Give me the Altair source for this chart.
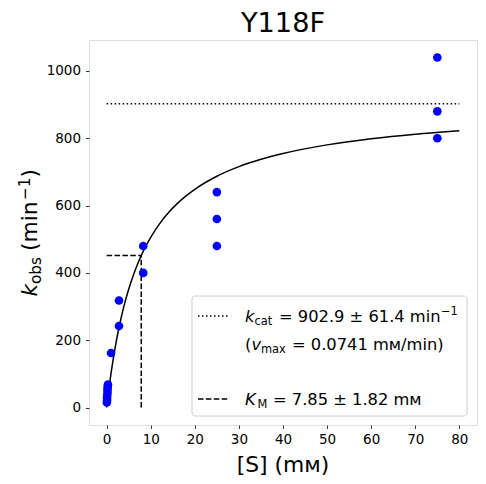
import altair as alt
import pandas as pd

# ---- data ----
S_mM = [0.05, 0.1, 0.1, 0.15, 0.2, 0.2, 0.25, 0.3, 1.0, 2.8, 2.8, 8.3, 8.3, 25, 25, 25, 75, 75, 75]
k_obs = [15, 22, 30, 38, 46, 54, 62, 68, 162, 318, 242, 480, 400, 640, 560, 480, 1040, 880, 800]

fit_S = [0, 0.25, 0.5, 1, 1.5, 2, 3, 4, 5, 6, 7, 8, 9, 10, 12, 14, 16, 18, 20, 25, 30, 35, 40, 50, 60, 70, 80]
fit_k = [0, 27.8, 54.1, 102.0, 144.8, 183.3, 249.6, 304.8, 351.3, 391.1, 425.6, 455.7, 482.3, 505.8,
         545.8, 578.5, 605.7, 628.7, 648.4, 687.1, 715.6, 737.5, 754.8, 780.4, 798.4, 811.9, 822.2]

kcat = 902.9
KM = 7.85
half_kcat = 451.45

x_ticks = [0, 10, 20, 30, 40, 50, 60, 70, 80]
y_ticks = [0, 200, 400, 600, 800, 1000]

points = pd.DataFrame({"S": S_mM, "k": k_obs})
fit = pd.DataFrame({"S": fit_S, "k": fit_k})
kcat_line = pd.DataFrame({"x": [0], "x2": [80], "y": [kcat]})
km_h = pd.DataFrame({"x": [0], "x2": [KM], "y": [half_kcat]})
km_v = pd.DataFrame({"x": [KM], "y": [0], "y2": [half_kcat]})

# plot area: left 89, top 40 (page), 388 x 385
W, H = 388, 385
OX, OY = 89, 40
FONT = "DejaVu Sans"

xs = alt.Scale(domain=[-4, 84], nice=False, zero=False)
ys = alt.Scale(domain=[-52, 1092], nice=False, zero=False)

x_axis = alt.Axis(values=x_ticks, title=None, grid=False, domain=False, tickSize=3.5, tickWidth=0.8,
                  tickColor="black", labelFontSize=13.5, labelColor="black", labelFont=FONT,
                  labelPadding=3.5, format="d")
y_axis = alt.Axis(values=y_ticks, title=None, grid=False, domain=False, tickSize=3.5, tickWidth=0.8,
                  tickColor="black", labelFontSize=13.5, labelColor="black", labelFont=FONT,
                  labelPadding=5, format="d")

base_pts = alt.Chart(points).mark_circle(size=75, color="#0000ff", opacity=1).encode(
    x=alt.X("S:Q", scale=xs, axis=x_axis),
    y=alt.Y("k:Q", scale=ys, axis=y_axis),
)

curve = alt.Chart(fit).mark_line(color="black", strokeWidth=1.5, interpolate="monotone").encode(
    x=alt.X("S:Q", scale=xs), y=alt.Y("k:Q", scale=ys)
)

dot_rule = alt.Chart(kcat_line).mark_rule(color="black", strokeWidth=1.5, strokeDash=[1.5, 2.5]).encode(
    x=alt.X("x:Q", scale=xs), x2="x2:Q", y=alt.Y("y:Q", scale=ys)
)
km_h_rule = alt.Chart(km_h).mark_rule(color="black", strokeWidth=1.5, strokeDash=[5.5, 2.4]).encode(
    x=alt.X("x:Q", scale=xs), x2="x2:Q", y=alt.Y("y:Q", scale=ys)
)
km_v_rule = alt.Chart(km_v).mark_rule(color="black", strokeWidth=1.5, strokeDash=[5.5, 2.4]).encode(
    x=alt.X("x:Q", scale=xs), y=alt.Y("y:Q", scale=ys), y2="y2:Q"
)

one = pd.DataFrame({"a": [0]})


def txt(text, px, py, size, italic=False, angle=0, align="left", baseline="alphabetic"):
    kw = dict(text=text, font=FONT, fontSize=size, color="black", align=align, baseline=baseline)
    if italic:
        kw["fontStyle"] = "italic"
    if angle:
        kw["angle"] = angle
    return alt.Chart(one).mark_text(**kw).encode(x=alt.value(px - OX), y=alt.value(py - OY))


# legend box
legend_box = alt.Chart(one).mark_rect(fill="white", fillOpacity=0.8, stroke="#cccccc", strokeWidth=1,
                                      cornerRadius=3).encode(
    x=alt.value(192 - OX), x2=alt.value(467 - OX), y=alt.value(296 - OY), y2=alt.value(416 - OY)
)
leg_dot = alt.Chart(one).mark_rule(color="black", strokeWidth=1.5, strokeDash=[1.5, 2.5]).encode(
    x=alt.value(198 - OX), x2=alt.value(228 - OX), y=alt.value(316 - OY)
)
leg_dash = alt.Chart(one).mark_rule(color="black", strokeWidth=1.5, strokeDash=[5.5, 2.4]).encode(
    x=alt.value(198 - OX), x2=alt.value(228 - OX), y=alt.value(399 - OY)
)

LF, SF = 16.3, 11.4
texts = [
    # line 1
    txt("k", 245, 322, LF, italic=True),
    txt("cat", 254.5, 325, SF),
    txt("= 902.9 ± 61.4 min", 279, 322, LF),
    txt("−1", 441, 315, SF),
    # line 2
    txt("(", 245, 350, LF),
    txt("v", 251.5, 350, LF, italic=True),
    txt("max", 261, 353, SF),
    txt("= 0.0741 mᴍ/min)", 292, 350, LF),
    # line 4
    txt("K", 245, 405, LF, italic=True),
    txt("M", 257.5, 408, SF),
    txt("= 7.85 ± 1.82 mᴍ", 273, 405, LF),
    # title
    txt("Y118F", 283, 32, 27.2, align="center"),
    # x axis title
    txt("[S] (mᴍ)", 283, 472, 21.8, align="center"),
    # y axis title (rotated)
    txt("k", 37, 296.5, 21.8, italic=True, angle=270),
    txt("obs", 40.5, 284, 15.3, angle=270),
    txt("(min", 37, 251, 21.8, angle=270),
    txt("−1", 29.5, 200, 15.3, angle=270),
    txt(")", 37, 177.5, 21.8, angle=270),
]

chart = alt.layer(
    dot_rule, km_h_rule, km_v_rule, curve, base_pts, legend_box, leg_dot, leg_dash, *texts
).properties(
    width=W, height=H,
    autosize=alt.AutoSizeParams(type="none"),
    padding={"left": 81, "top": 32, "right": 1, "bottom": 51},
).configure_view(
    stroke="black", strokeWidth=0.8
).configure(background="white")

chart.save("out.html", embed_options={"renderer": "svg", "actions": False})
